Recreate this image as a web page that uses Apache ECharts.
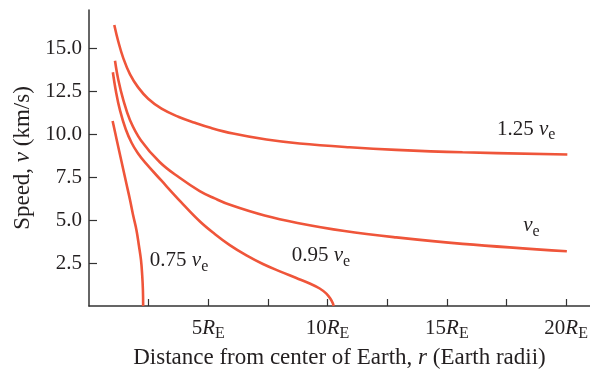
<!DOCTYPE html>
<html>
<head>
<meta charset="utf-8">
<script src="https://cdn.jsdelivr.net/npm/echarts@6/dist/echarts.min.js"></script>
<style>
  html, body { margin: 0; padding: 0; background: #fff; }
  #chart { width: 590px; height: 369px; }
</style>
</head>
<body>
<div id="chart"></div>
<script>
// speed curves: [r in Earth radii, v in km/s]
const curve125 = [[1.06, 16.38], [1.23, 15.4], [1.44, 14.43], [1.72, 13.5], [2.06, 12.74], [2.48, 12.08], [3.04, 11.5], [3.74, 11.03], [4.44, 10.68], [5.06, 10.4], [6.04, 10.05], [7.44, 9.7], [8.83, 9.47], [10.92, 9.25], [12.87, 9.1], [15.66, 8.96], [20.05, 8.83]];
const curveEsc = [[1.09, 14.29], [1.23, 13.17], [1.44, 12.0], [1.72, 10.83], [2.18, 9.65], [2.97, 8.38], [3.77, 7.5], [4.64, 6.7], [5.27, 6.27], [5.94, 5.88], [7.36, 5.27], [8.74, 4.84], [10.71, 4.37], [12.87, 4.0], [15.66, 3.62], [20.03, 3.19]];
const curve095 = [[1.0, 13.62], [1.13, 12.5], [1.3, 11.4], [1.54, 10.3], [1.79, 9.5], [2.05, 8.9], [2.34, 8.38], [3.04, 7.3], [3.85, 6.07], [4.64, 4.94], [5.27, 4.2], [5.9, 3.55], [6.6, 2.95], [7.29, 2.45], [8.0, 2.02], [8.69, 1.63], [9.3, 1.28], [9.67, 1.02], [9.95, 0.72], [10.12, 0.42], [10.22, 0.16], [10.25, 0]];
const curve075 = [[0.99, 10.78], [1.17, 9.63], [1.36, 8.44], [1.55, 7.24], [1.72, 6.18], [1.85, 5.29], [1.99, 4.42], [2.09, 3.54], [2.18, 2.67], [2.23, 1.79], [2.26, 0.92], [2.27, 0]];

const xTicks = [2.5, 5, 7.5, 10, 12.5, 15, 17.5, 20];
const xLabels = [5, 10, 15, 20];
const yTicks = [2.5, 5, 7.5, 10, 12.5, 15];

// curve labels: [text factor, r, v]
const notes = [['1.25 ', 17.1, 10.3], ['', 18.2, 4.7], ['0.95 ', 8.5, 2.95], ['0.75 ', 2.55, 2.65]];

const red = '#EF553A';
const ink = '#231F20';
const font = '"Liberation Serif", "Times New Roman", serif';

const rich = {
  n: { fontFamily: font, fontSize: 21, color: ink },
  i: { fontFamily: font, fontSize: 21, color: ink, fontStyle: 'italic' },
  s: { fontFamily: font, fontSize: 16, color: ink, padding: [12, 0, 0, 0] }
};
const nameRich = {
  n: { fontFamily: font, fontSize: 23, color: ink },
  i: { fontFamily: font, fontSize: 23, color: ink, fontStyle: 'italic' }
};

const chart = echarts.init(document.getElementById('chart'));

const lineSeries = (data, note) => ({
  type: 'line',
  data,
  showSymbol: false,
  smooth: 0.4,
  silent: true,
  lineStyle: { color: red, width: 2.6 },
  markPoint: {
    symbol: 'circle',
    symbolSize: 0,
    silent: true,
    data: [{
      coord: [note[1], note[2]],
      label: {
        show: true,
        position: 'right',
        distance: 0,
        formatter: '{n|' + note[0] + '}{i|v}{s|e}',
        rich
      }
    }]
  }
});

chart.setOption({
  animation: false,
  grid: { left: 89, right: 0, top: 10, bottom: 63, outerBoundsMode: 'none' },
  xAxis: {
    type: 'value',
    min: 0,
    max: 21,
    name: '{n|Distance from center of Earth, }{i|r}{n| (Earth radii)}',
    nameLocation: 'middle',
    nameGap: 37,
    nameTextStyle: { rich: nameRich },
    splitLine: { show: false },
    axisLine: { lineStyle: { color: '#333', width: 1.5 } },
    axisTick: { inside: true, length: 7, customValues: xTicks, lineStyle: { color: '#333', width: 1.2 } },
    axisLabel: {
      customValues: xLabels,
      margin: 8,
      formatter: v => '{n|' + v + '}{i|R}{s|E}',
      rich
    }
  },
  yAxis: {
    type: 'value',
    min: 0,
    max: 17.25,
    name: '{n|Speed, }{i|v}{n| (km/s)}',
    nameLocation: 'middle',
    nameGap: 49,
    nameTextStyle: { rich: nameRich },
    splitLine: { show: false },
    axisLine: { show: true, lineStyle: { color: '#333', width: 1.5 } },
    axisTick: { show: true, inside: true, length: 8, customValues: yTicks, lineStyle: { color: '#333', width: 1.2 } },
    axisLabel: {
      customValues: yTicks,
      margin: 7,
      fontFamily: font,
      fontSize: 21,
      color: ink,
      formatter: v => v.toFixed(1)
    }
  },
  series: [
    lineSeries(curve125, notes[0]),
    lineSeries(curveEsc, notes[1]),
    lineSeries(curve095, notes[2]),
    lineSeries(curve075, notes[3])
  ]
});
</script>
</body>
</html>
